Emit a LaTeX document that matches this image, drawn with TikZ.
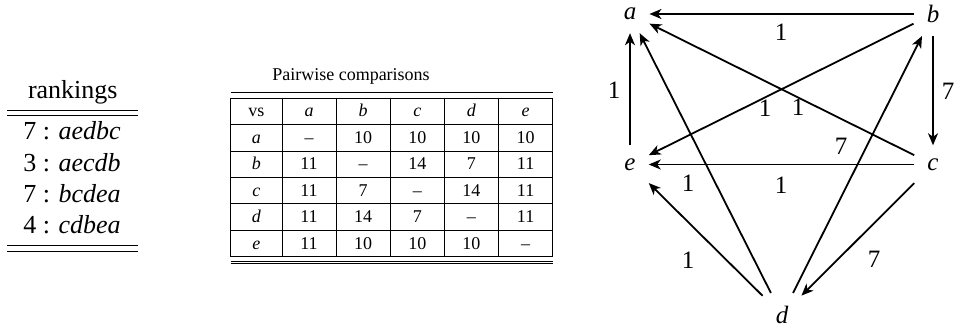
\documentclass[tikz,border=0pt]{standalone}
\usepackage{fontspec}
\setmainfont{Liberation Serif}[Ligatures=TeX]
\newfontfamily\tms{Liberation Serif}[Ligatures=TeX]
\usetikzlibrary{arrows.meta}
\begin{document}
\begin{tikzpicture}[x=1pt,y=-1pt,
  gnode/.style={inner sep=13pt, font=\tms\fontsize{25}{30}\selectfont\itshape},
  elabel/.style={inner sep=0pt, font=\tms\fontsize{25}{30}\selectfont},
  edge/.style={line width=1.8pt, -{Stealth[length=12pt,width=10pt,inset=3.5pt]}},
  cell/.style={anchor=base, inner sep=0pt, font=\tms\fontsize{18}{21}\selectfont},
  rk/.style={anchor=base, inner sep=0pt, font=\tms\fontsize{26}{31}\selectfont},
  rulel/.style={line width=1pt},
  gridl/.style={line width=0.9pt}]
\useasboundingbox (0,0) rectangle (960,331);

% ---------- rankings ----------
\node[rk] (rkh) at (72.8,99) {rankings};
\draw[rulel] (7.3,111) -- (138.3,111);
\draw[rulel] (7.3,116) -- (138.3,116);
\node[rk] (rk1) at (72,140) {7 : \textit{aedbc}};
\node[rk] (rk2) at (72,171.3) {3 : \textit{aecdb}};
\node[rk] (rk3) at (72,202.6) {7 : \textit{bcdea}};
\node[rk] (rk4) at (72,233.9) {4 : \textit{cdbea}};
\draw[rulel] (7.3,245) -- (138.3,245);
\draw[rulel] (7.3,251) -- (138.3,251);

% ---------- pairwise table ----------
\node[cell] (cap) at (351,81) {Pairwise comparisons};
\draw[rulel] (230.7,92.7) -- (552.7,92.7);
\foreach \k in {0,...,6} \draw[gridl] (230.7,{98.3+26.4*\k}) -- (552.7,{98.3+26.4*\k});
\draw[gridl] (230.7,98.3) -- (230.7,256.7);
\foreach \k in {0,...,5} \draw[gridl] ({282+54.14*\k},98.3) -- ({282+54.14*\k},256.7);
\draw[rulel] (230.7,261.6) -- (552.7,261.6);
\draw[rulel] (230.7,263.6) -- (552.7,263.6);

% row labels
\foreach [count=\i from 0] \v in {vs,\textit{a},\textit{b},\textit{c},\textit{d},\textit{e}}
  \node[cell] (p-\i-0) at (256.3,{98.3+26.4*(\i+0.5)+5.5}) {\v};
% header
\foreach [count=\c] \v in {a,b,c,d,e}
  \node[cell] (p-0-\c) at ({282+54.14*(\c-0.5)},{98.3+26.4*0.5+5.5}) {\textit{\v}};
\foreach [count=\c] \v in {\textendash,10,10,10,10}
  \node[cell] (p-1-\c) at ({282+54.14*(\c-0.5)},{98.3+26.4*1.5+5.5}) {\v};
\foreach [count=\c] \v in {11,\textendash,14,7,11}
  \node[cell] (p-2-\c) at ({282+54.14*(\c-0.5)},{98.3+26.4*2.5+5.5}) {\v};
\foreach [count=\c] \v in {11,7,\textendash,14,11}
  \node[cell] (p-3-\c) at ({282+54.14*(\c-0.5)},{98.3+26.4*3.5+5.5}) {\v};
\foreach [count=\c] \v in {11,14,7,\textendash,11}
  \node[cell] (p-4-\c) at ({282+54.14*(\c-0.5)},{98.3+26.4*4.5+5.5}) {\v};
\foreach [count=\c] \v in {11,10,10,10,\textendash}
  \node[cell] (p-5-\c) at ({282+54.14*(\c-0.5)},{98.3+26.4*5.5+5.5}) {\v};

% ---------- graph ----------
\node[gnode] (a) at (630,14) {a};
\node[gnode] (b) at (933,14) {b};
\node[gnode] (c) at (933,164.5) {c};
\node[gnode] (e) at (630,164.5) {e};
\node[gnode] (d) at (782,315) {d};

\draw[edge] (b) -- (a);
\draw[edge] (c) -- (a);
\draw[edge] (e) -- (a);
\draw[edge] (d) -- (a);
\draw[edge] (b) -- (c);
\draw[edge] (b) -- (e);
\draw[edge] (c) -- (e);
\draw[edge] (c) -- (d);
\draw[edge] (d) -- (e);
\draw[edge] (d) -- (b);

\node[elabel] (lba) at (781,32.5) {1};
\node[elabel] (lea) at (614,90) {1};
\node[elabel] (lbc) at (948,91.7) {7};
\node[elabel] (lbe) at (765,108.3) {1};
\node[elabel] (lca) at (798,107.5) {1};
\node[elabel] (ldb) at (841,146.7) {7};
\node[elabel] (lda) at (688,183.5) {1};
\node[elabel] (lce) at (781,185) {1};
\node[elabel] (lde) at (688,260) {1};
\node[elabel] (lcd) at (874,259) {7};
\end{tikzpicture}
\end{document}
